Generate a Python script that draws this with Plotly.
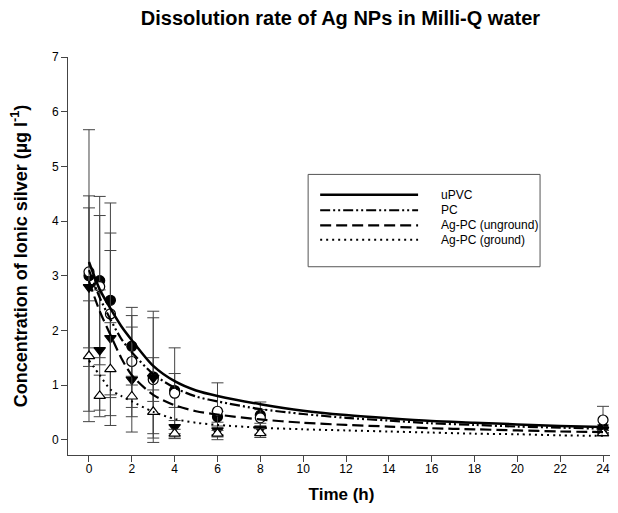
import plotly.graph_objects as go

# ---- data ----
series_names = ["uPVC", "PC", "Ag-PC (unground)", "Ag-PC (ground)"]
times = [0, 0.5, 1, 2, 3, 4, 6, 8, 24]

upvc_mean = [3.0, 2.91, 2.55, 1.71, 1.15, 0.90, 0.42, 0.45, 0.22]
upvc_err = [2.67, 1.54, 1.78, 0.71, 1.20, 0.31, 0.10, 0.24, 0.05]
pc_mean = [3.07, 2.80, 2.30, 1.43, 1.10, 0.85, 0.52, 0.40, 0.36]
pc_err = [1.39, 1.30, 1.48, 0.84, 0.40, 0.83, 0.52, 0.15, 0.25]
unground_mean = [2.79, 1.64, 1.86, 1.10, 1.13, 0.23, 0.17, 0.20, 0.18]
unground_err = [1.45, 1.10, 1.60, 0.96, 1.10, 0.12, 0.08, 0.10, 0.05]
ground_mean = [1.53, 0.80, 1.29, 0.79, 0.51, 0.11, 0.11, 0.12, 0.12]
ground_err = [1.01, 0.38, 0.85, 0.37, 0.40, 0.08, 0.06, 0.08, 0.05]

fit_times = [0, 0.5, 1, 1.5, 2, 3, 4, 5, 6, 8, 10, 12, 14, 16, 18, 20, 22, 24]
upvc_fit = [3.25, 2.75, 2.40, 2.08, 1.82, 1.35, 1.07, 0.90, 0.80, 0.65, 0.53, 0.45, 0.39, 0.34, 0.31, 0.28, 0.25, 0.23]
pc_fit = [3.10, 2.60, 2.20, 1.85, 1.60, 1.20, 0.95, 0.79, 0.70, 0.56, 0.47, 0.40, 0.35, 0.30, 0.27, 0.24, 0.22, 0.20]
unground_fit = [2.90, 2.35, 1.92, 1.50, 1.18, 0.82, 0.63, 0.52, 0.46, 0.37, 0.31, 0.27, 0.24, 0.21, 0.19, 0.17, 0.15, 0.14]
ground_fit = [1.45, 1.18, 0.92, 0.80, 0.70, 0.51, 0.38, 0.31, 0.27, 0.22, 0.19, 0.17, 0.15, 0.13, 0.11, 0.10, 0.08, 0.07]

x_ticks = list(range(0, 25, 2))
y_ticks = list(range(0, 8))

# ---- styles ----
FONT = "Liberation Sans, Arial, sans-serif"
means = [upvc_mean, pc_mean, unground_mean, ground_mean]
errs = [upvc_err, pc_err, unground_err, ground_err]
fits = [upvc_fit, pc_fit, unground_fit, ground_fit]
symbols = ["circle", "circle", "triangle-down", "triangle-up"]
fills = ["black", "white", "black", "white"]
dashes = ["solid", "10px,3px,2px,3px,2px,3px", "11px,5px", "2px,4px"]
widths = [2.5, 2.2, 2.2, 2.0]

fig = go.Figure()

for m, e, sym, fc in zip(means, errs, symbols, fills):
    fig.add_trace(go.Scatter(
        x=times, y=m, mode="markers", showlegend=False,
        error_y=dict(type="data", array=e, visible=True, color="#444", thickness=1, width=6),
        marker=dict(symbol=sym, size=10, color=fc, line=dict(color="black", width=1.2)),
    ))

for f, d, w, name in zip(fits, dashes, widths, series_names):
    fig.add_trace(go.Scatter(
        x=fit_times, y=f, mode="lines", name=name, showlegend=False,
        line=dict(color="black", dash=d, width=w, shape="spline", smoothing=0.8),
    ))

# ---- manual legend (box, line samples, labels) ----
lx0, lx1, ly0, ly1 = 0.439, 0.863, 0.473, 0.705
fig.add_shape(type="rect", xref="paper", yref="paper", x0=lx0, x1=lx1, y0=ly0, y1=ly1,
              line=dict(color="#555", width=1), fillcolor="white", layer="below")
row_y = [0.654, 0.615, 0.577, 0.541]
for name, d, w, ry in zip(series_names, dashes, widths, row_y):
    fig.add_shape(type="line", xref="paper", yref="paper", x0=0.461, x1=0.640, y0=ry, y1=ry,
                  line=dict(color="black", dash=d, width=w))
    fig.add_annotation(xref="paper", yref="paper", x=0.678, y=ry, text=name, showarrow=False,
                       xanchor="left", yanchor="middle", font=dict(family=FONT, size=12, color="black"))

# page body has an 8px default margin, so the figure is 8px smaller than the window
fig.update_layout(
    width=610, height=505,
    margin=dict(l=60, r=3, t=49, b=58),
    paper_bgcolor="white", plot_bgcolor="white",
    font=dict(family=FONT, size=12, color="black"),
    title=dict(text="<b>Dissolution rate of Ag NPs in Milli-Q water</b>",
               x=0.545, xanchor="center", y=0.98, yanchor="middle",
               font=dict(family=FONT, size=20, color="black")),
    xaxis=dict(range=[-0.98, 24.56], tickvals=x_ticks, showgrid=False, zeroline=False,
               automargin=False,
               showline=True, linecolor="#444", linewidth=1, ticks="outside", ticklen=6,
               tickcolor="#444", tickfont=dict(size=12), ticklabelstandoff=-3,
               title=dict(text="<b>Time (h)</b>", font=dict(size=17), standoff=12)),
    yaxis=dict(range=[-0.28, 7], tickvals=y_ticks, showgrid=False, zeroline=False,
               automargin=False,
               showline=True, linecolor="#444", linewidth=1, ticks="outside", ticklen=6,
               tickcolor="#444", tickfont=dict(size=12),
               title=dict(text="<b>Concentration of Ionic silver (µg l<sup>-1</sup>)</b>",
                          font=dict(size=18), standoff=21)),
)

fig.write_html("out.html")
